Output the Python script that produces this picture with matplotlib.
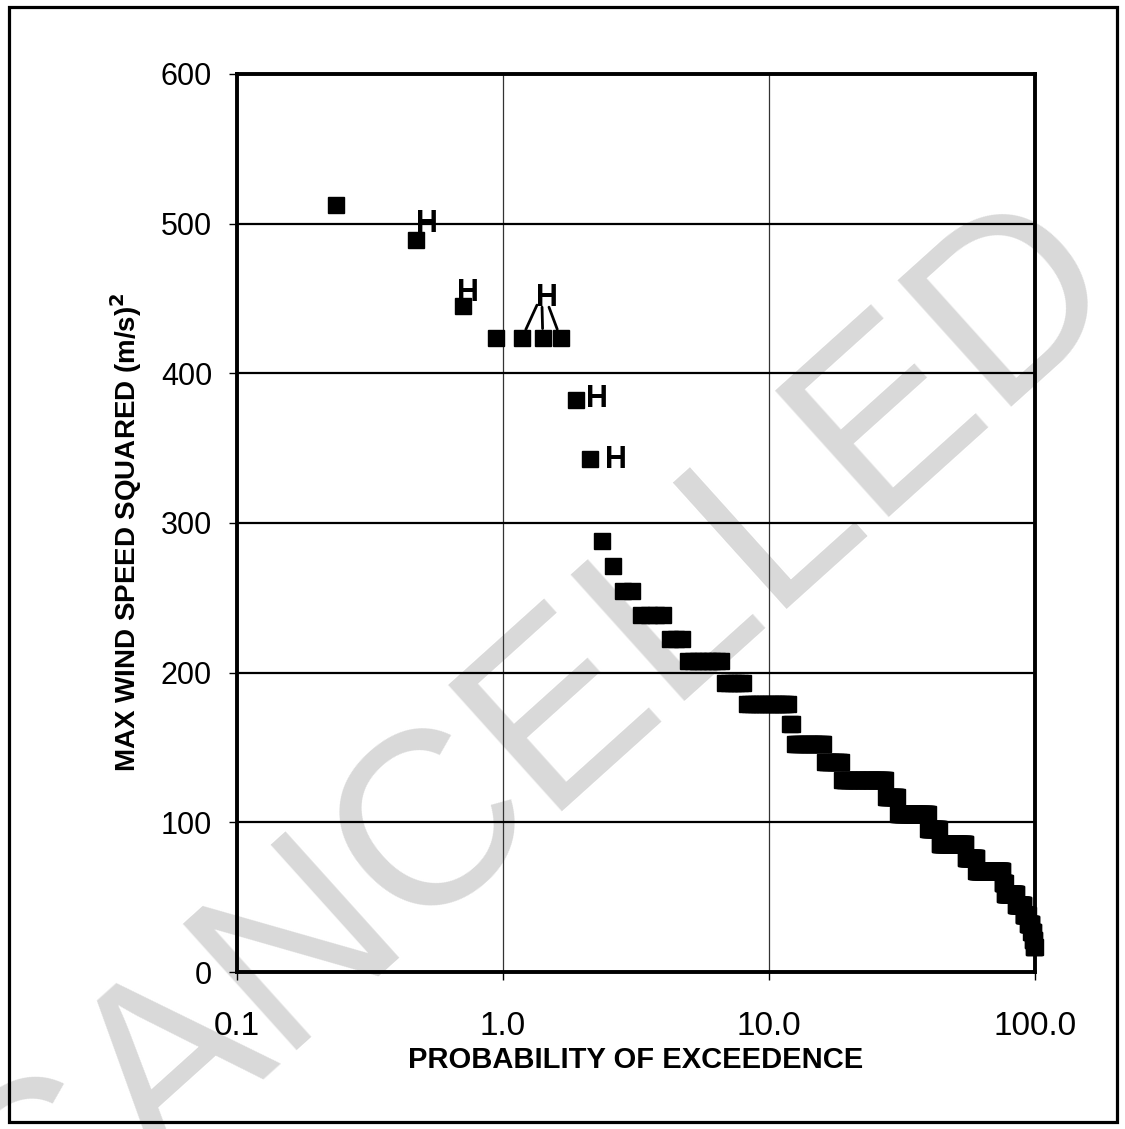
import numpy as np
import matplotlib
matplotlib.use('Agg')
import matplotlib.pyplot as plt
from matplotlib.patches import Rectangle

plt.rcParams['font.family'] = ['Liberation Sans', 'DejaVu Sans']

# distinct max wind speed squared values (m/s)^2 and how many years share each
speed_sq = [512.5, 489.3, 444.9, 423.4, 382.2, 343.0, 288.2, 271.0, 254.3, 238.2,
            222.6, 207.5, 192.9, 178.9, 165.4, 152.4, 140.0, 128.1, 116.7, 105.8,
            95.5, 85.7, 76.5, 67.7, 59.5, 51.9, 44.7, 38.1, 32.0, 26.5, 21.4, 16.9]
counts = [1, 1, 1, 4, 1, 1, 1, 1, 2, 4,
          3, 8, 6, 16, 2, 16, 11, 37, 13, 39,
          17, 47, 23, 65, 7, 33, 24, 15, 12, 6, 4, 3]

# hurricane flags: label position and the ranks they point at
h_labels = [(0.516, 500), (0.736, 454), (1.464, 450), (2.256, 383), (2.66, 342)]
h_group_ranks = [5, 6, 7]
h_group_starts = [(1.342, 445.6), (1.402, 444.2), (1.489, 444.2)]

xticks = [0.1, 1.0, 10.0, 100.0]
xticklabels = ['0.1', '1.0', '10.0', '100.0']
yticks = [0, 100, 200, 300, 400, 500, 600]

# sorted values -> plotting position (probability of exceedence, %)
y = np.repeat(speed_sq, counts)
n = len(y)
rank = np.arange(1, n + 1)
prob = rank / (n + 1) * 100

fig = plt.figure(figsize=(11.25, 11.29), dpi=100)
ax = fig.add_axes([237 / 1125, 1 - 972 / 1129, 798 / 1125, 898 / 1129])
ax.patch.set_alpha(0)

# watermark behind everything
fig.text(575 / 1125, 1 - 788 / 1129, 'CANCELLED', rotation=42, fontsize=178,
         color='#d9d9d9', ha='center', va='baseline', rotation_mode='anchor', zorder=-1)

ax.plot(prob, y, 's', color='black', markersize=11, clip_on=False, zorder=4)

for hx, hy in h_labels:
    ax.text(hx, hy, 'H', fontsize=22, fontweight='bold', ha='center', va='center', zorder=5)
for r, (sx, sy) in zip(h_group_ranks, h_group_starts):
    ax.annotate('', xy=(prob[r - 1], y[r - 1]), xytext=(sx, sy),
                arrowprops=dict(arrowstyle='-', lw=2, color='black', shrinkA=0, shrinkB=7))

ax.set_xscale('log')
ax.set_xlim(0.1, 100)
ax.set_ylim(0, 600)
ax.set_xticks(xticks)
ax.set_xticklabels(xticklabels)
ax.minorticks_off()
ax.set_yticks(yticks)

ax.grid(axis='y', color='black', lw=1.6, zorder=1)
ax.grid(axis='x', color='#333333', lw=0.9, zorder=1)
ax.set_axisbelow(True)
for s in ax.spines.values():
    s.set_linewidth(2.8)
    s.set_zorder(3)

ax.tick_params(axis='y', direction='out', length=6, width=1, labelsize=22, pad=12)
ax.tick_params(axis='x', direction='out', length=6, width=1, labelsize=24, pad=22)

ax.set_xlabel('PROBABILITY OF EXCEEDENCE', fontsize=21, fontweight='bold', labelpad=3)
ax.set_ylabel('MAX WIND SPEED SQUARED (m/s)$^\\mathbf{2}$', fontsize=20, fontweight='bold')
ax.yaxis.set_label_coords(-0.117, 0.49)

fig.patches.append(Rectangle((8.5 / 1125, 1 - 1122 / 1129), 1108 / 1125, 1115.5 / 1129,
                             transform=fig.transFigure, fill=False, lw=2.3,
                             edgecolor='black', zorder=10))

fig.savefig('out.png', dpi=100)
